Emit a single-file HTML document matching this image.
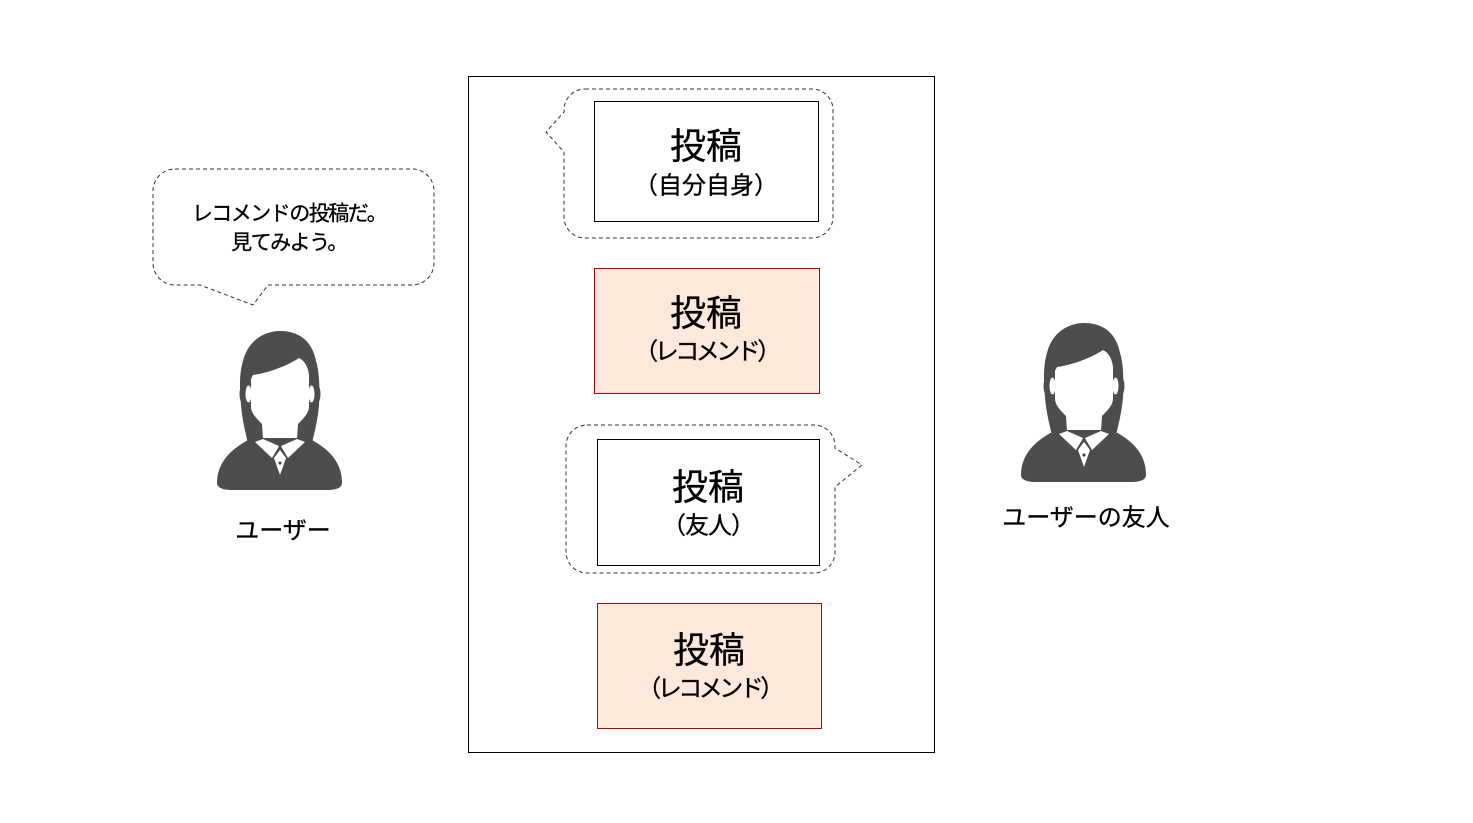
<!DOCTYPE html>
<html>
<head>
<meta charset="utf-8">
<style>
  html, body { margin:0; padding:0; background:#ffffff; }
  svg { display:block; }
  text { font-family: "Liberation Sans", "Noto Sans CJK JP", sans-serif; fill:#000; stroke:#000; stroke-width:0.3; }
</style>
</head>
<body>
<svg width="1473" height="823" viewBox="0 0 1473 823" xmlns="http://www.w3.org/2000/svg">
  <defs>
    <g id="person">
      <path d="M38,118 C34,102 32,92 31,80 C29,60 30,45 33,36 C38,15 55,6 70,6 C88,6 102,15 106,36 C109,45 110,60 109,80 C108,92 106,102 102,118 Z" fill="#4d4d4d"/>
      <ellipse cx="36" cy="69" rx="6.5" ry="12" fill="#4d4d4d"/>
      <ellipse cx="104" cy="69" rx="6.5" ry="12" fill="#4d4d4d"/>
      <path d="M43,50 C58,48 77,41 89,33 C95,36 98,42 99,50 L99,82 C99,88 93,94 88,99 L87,114 L53,114 L52,99 C47,94 41,88 41,82 L41,54 Z" fill="#fff"/>
      <ellipse cx="38.5" cy="69" rx="3" ry="8.5" fill="#fff"/>
      <ellipse cx="101.5" cy="69" rx="3" ry="8.5" fill="#fff"/>
      <path d="M7,158 C7,138 20,124 42,113 L98,113 C120,124 132,138 132,158 Q132,164 120,165 L19,165 Q7,164 7,158 Z" fill="#4d4d4d"/>
      <polygon points="45,117 53,114 69,121 68,123 62,133" fill="#fff"/>
      <polygon points="95,117 87,114 71,121 72,123 78,133" fill="#fff"/>
      <polygon points="70,125 76,133 70,150 64,133" fill="#fff"/>
      <circle cx="70" cy="138" r="1.6" fill="#4d4d4d"/>
    </g>
  </defs>
  <rect x="0" y="0" width="1473" height="823" fill="#ffffff"/>

  <!-- Left speech bubble -->
  <path d="M175,169 H412 A22,22 0 0 1 434,191 V263 A22,22 0 0 1 412,285 H268 L253,305 L200,285 H175 A22,22 0 0 1 153,263 V191 A22,22 0 0 1 175,169 Z"
        fill="#fff" stroke="#333" stroke-width="1" stroke-dasharray="4,3"/>
  <text x="289" y="214" font-size="21" text-anchor="middle" dominant-baseline="central" letter-spacing="-1.5">レコメンドの投稿だ。</text>
  <text x="289" y="243" font-size="21" text-anchor="middle" dominant-baseline="central" letter-spacing="-1.5">見てみよう。</text>

  <!-- Left person -->
  <use href="#person" transform="translate(210,325)"/>
  <text x="283" y="531" font-size="24" text-anchor="middle" dominant-baseline="central">ユーザー</text>

  <!-- Central frame -->
  <rect x="468.5" y="76.5" width="466" height="676" fill="none" stroke="#000" stroke-width="1"/>

  <!-- Bubble 1 (self) -->
  <path d="M585,89 H812 A21,21 0 0 1 833,110 V217 A21,21 0 0 1 812,238 H585 A21,21 0 0 1 564,217 V152 L546,132 L564,112 V110 A21,21 0 0 1 585,89 Z"
        fill="#fff" stroke="#333" stroke-width="1" stroke-dasharray="4,3"/>
  <rect x="594.5" y="101.5" width="224" height="120" fill="#fff" stroke="#000" stroke-width="1"/>
  <text x="706" y="146" font-size="36" text-anchor="middle" dominant-baseline="central">投稿</text>
  <text x="706" y="186" font-size="24" text-anchor="middle" dominant-baseline="central">（自分自身）</text>

  <!-- Box 2 (recommend) -->
  <rect x="594.5" y="268.5" width="225" height="125" fill="#fce9db" stroke="#c00000" stroke-width="1"/>
  <text x="706" y="313" font-size="36" text-anchor="middle" dominant-baseline="central">投稿</text>
  <text x="706" y="352" font-size="24" text-anchor="middle" dominant-baseline="central" letter-spacing="-3.5">（レコメンド）</text>

  <!-- Bubble 3 (friend) -->
  <path d="M587,425 H814 A21,21 0 0 1 835,446 V448 L862,465 L835,487 V552 A21,21 0 0 1 814,573 H587 A21,21 0 0 1 566,552 V446 A21,21 0 0 1 587,425 Z"
        fill="#fff" stroke="#333" stroke-width="1" stroke-dasharray="4,3"/>
  <rect x="597.5" y="439.5" width="222" height="126" fill="#fff" stroke="#000" stroke-width="1"/>
  <text x="708" y="487" font-size="36" text-anchor="middle" dominant-baseline="central">投稿</text>
  <text x="708" y="526" font-size="24" text-anchor="middle" dominant-baseline="central" letter-spacing="-1">（友人）</text>

  <!-- Box 4 (recommend) -->
  <rect x="597.5" y="603.5" width="224" height="125" fill="#fce9db" stroke="#c00000" stroke-width="1"/>
  <text x="709" y="650" font-size="36" text-anchor="middle" dominant-baseline="central">投稿</text>
  <text x="709" y="689" font-size="24" text-anchor="middle" dominant-baseline="central" letter-spacing="-3.5">（レコメンド）</text>

  <!-- Right person -->
  <use href="#person" transform="translate(1014,317)"/>
  <text x="1086" y="518" font-size="24" text-anchor="middle" dominant-baseline="central">ユーザーの友人</text>
</svg>
</body>
</html>
